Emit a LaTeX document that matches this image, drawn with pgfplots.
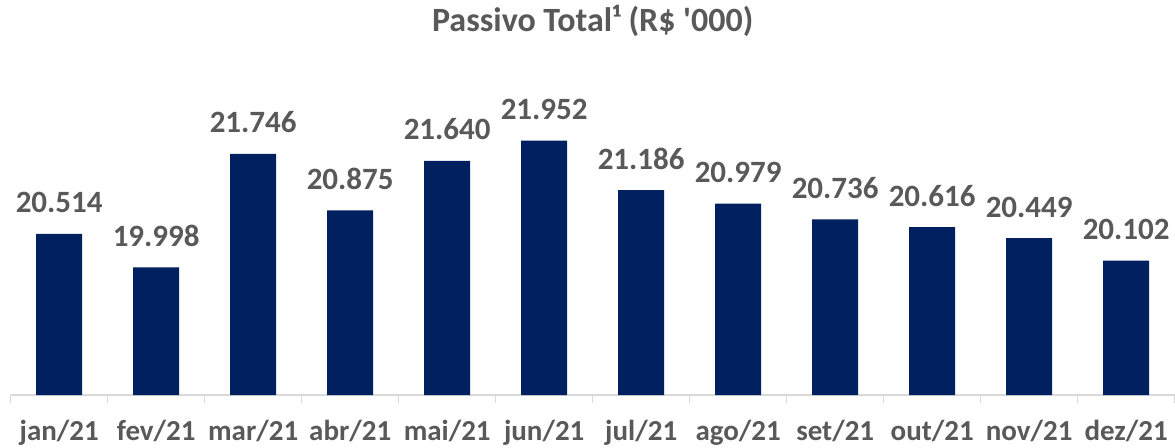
\documentclass[border=0pt]{standalone}
\usepackage{pgfplots}
\pgfplotsset{compat=1.18}
\usepackage{fontspec}
\setmainfont{Carlito}[Ligatures=TeXOff]
\definecolor{barblue}{HTML}{002060}
\definecolor{txtgray}{HTML}{595959}
\definecolor{axgray}{HTML}{D9D9D9}
\begin{document}
\begin{tikzpicture}
\path[use as bounding box] (-10.7pt,-52pt) rectangle (1164.3pt,395pt);
\begin{axis}[
  scale only axis,
  width=1164pt, height=290pt,
  xmin=-0.5, xmax=11.5,
  ymin=18.03, ymax=22.5,
  axis y line=none,
  axis x line*=bottom,
  x axis line style={axgray, line width=1.5pt, -},
  xtick={0,...,11},
  xticklabels={jan/21,fev/21,mar/21,abr/21,mai/21,jun/21,jul/21,ago/21,set/21,out/21,nov/21,dez/21},
  major tick length=0pt,
  extra x ticks={-0.5,0.5,...,11.5},
  extra x tick labels={},
  extra x tick style={major tick length=8pt, tick align=outside, tick style={axgray, line width=1.5pt}},
  xticklabel style={font=\fontsize{29}{32}\selectfont\bfseries, text=txtgray, anchor=base, yshift=-45pt},
  clip=false,
  ybar, bar width=46pt,
  /pgf/number format/assume math mode=true,
  nodes near coords={\pgfmathprintnumber[fixed,precision=3,fixed zerofill,use period]{\pgfplotspointmeta}},
  every node near coord/.append style={font=\fontsize{31}{34}\selectfont\bfseries, text=txtgray, anchor=base, yshift=21pt},
  title={Passivo Total¹ (R\$ '000)},
  title style={font=\fontsize{34}{37}\selectfont\bfseries, text=txtgray, anchor=base, at={(0.5,1)}, yshift=67pt},
]
\addplot[fill=barblue, draw=none] coordinates {
(0,20.514) (1,19.998) (2,21.746) (3,20.875) (4,21.640) (5,21.952)
(6,21.186) (7,20.979) (8,20.736) (9,20.616) (10,20.449) (11,20.102)};
\end{axis}
\end{tikzpicture}
\end{document}
